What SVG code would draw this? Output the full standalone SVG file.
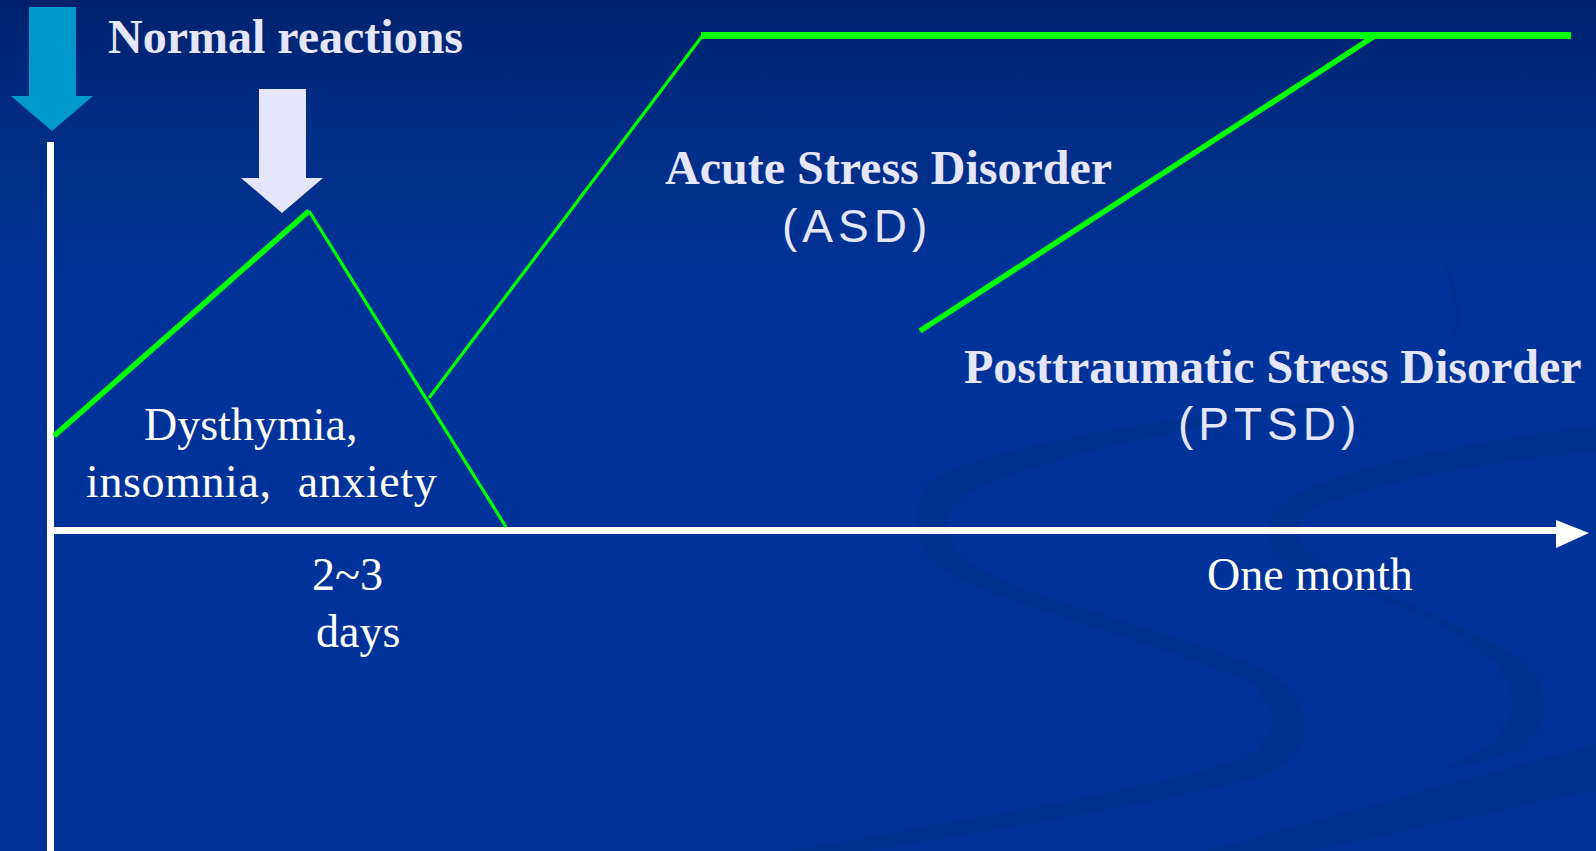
<svg xmlns="http://www.w3.org/2000/svg" width="1596" height="851" viewBox="0 0 1596 851">
  <defs>
    <linearGradient id="bg" x1="0" y1="0" x2="0" y2="1" gradientUnits="objectBoundingBox">
      <stop offset="0" stop-color="#00226c"/>
      <stop offset="0.12" stop-color="#002b80"/>
      <stop offset="0.33" stop-color="#003399"/>
      <stop offset="1" stop-color="#003399"/>
    </linearGradient>
    <style>
      .swirl { fill: #003090; }
      .axis { fill: #ffffff; }
      .curve { stroke: #00ff00; fill: none; stroke-linecap: butt; }
      .thick { stroke-width: 5.5; }
      .thin { stroke-width: 3.2; }
      .title { font-family: "Liberation Serif", "Times New Roman", serif; font-weight: bold; font-size: 48px; fill: #e6e6fa; }
      .abbr { font-family: "Liberation Sans", Arial, sans-serif; font-size: 46px; fill: #e6e6fa; letter-spacing: 5px; }
      .note { font-family: "Liberation Serif", "Times New Roman", serif; font-size: 46px; fill: #ffffff; }
    </style>
  </defs>

  <!-- slide background -->
  <rect x="0" y="0" width="1596" height="851" fill="url(#bg)"/>

  <!-- decorative swirls of the template -->
  <g id="decor">
    <path class="swirl" d="M 1390 397 C 1250 405, 1030 437, 945 472 C 905 495, 903 548, 960 580 C 1035 612, 1170 648, 1245 680 C 1280 697, 1282 745, 1240 760 C 1130 795, 930 825, 790 851 L 870 851 C 980 830, 1160 805, 1265 775 C 1320 752, 1318 695, 1260 668 C 1180 635, 1045 602, 985 572 C 935 548, 935 505, 980 487 C 1060 452, 1250 412, 1390 397 Z"/>
    <path class="swirl" d="M 1596 426 C 1490 438, 1340 468, 1290 498 C 1258 518, 1262 558, 1305 572 C 1390 600, 1465 630, 1500 668 C 1518 692, 1516 730, 1484 748 C 1470 756, 1455 764, 1440 770 C 1465 766, 1500 758, 1520 748 C 1553 728, 1553 680, 1514 655 C 1465 625, 1370 590, 1315 560 C 1290 545, 1292 515, 1320 505 C 1400 478, 1500 458, 1596 452 Z"/>
    <path class="swirl" d="M 1596 744 L 1596 790 L 1310 851 L 1206 851 Z"/>
    <path d="M 1441 256 Q 1462 292 1455 335" fill="none" stroke="#003090" stroke-width="3"/>
  </g>

  <!-- downward arrows -->
  <g id="arrow-onset">
    <polygon points="29,7 76,7 76,96 93,96 52,131 11,96 29,96" fill="#0099cc"/>
  </g>
  <g id="arrow-normal">
    <polygon points="259,89 306,89 306,178 323,178 282,213 241,178 259,178" fill="#e6e6fa"/>
  </g>

  <!-- time axes -->
  <g id="axes">
    <rect class="axis" x="47" y="142" width="7" height="709"/>
    <rect class="axis" x="54" y="527" width="1503" height="7"/>
    <polygon class="axis" points="1556,520 1589,533 1556,548"/>
  </g>

  <!-- symptom course lines -->
  <g id="connectors">
    <line class="curve thick" x1="54" y1="436" x2="309" y2="211"/>
    <line class="curve thin" x1="309" y1="211" x2="506" y2="527"/>
    <line class="curve thin" x1="429" y1="398" x2="703" y2="35"/>
    <line class="curve" stroke-width="7" x1="701" y1="35.5" x2="1571" y2="35.5"/>
    <line class="curve thick" x1="920" y1="331" x2="1373" y2="37"/>
  </g>

  <!-- labels -->
  <g id="label-normal">
    <text class="title" x="108" y="53">Normal reactions</text>
  </g>
  <g id="label-asd">
    <text class="title" x="665" y="184">Acute Stress Disorder</text>
    <text class="abbr" x="782" y="242">(ASD)</text>
  </g>
  <g id="label-ptsd">
    <text class="title" x="964" y="383">Posttraumatic Stress Disorder</text>
    <text class="abbr" x="1178" y="440">(PTSD)</text>
  </g>
  <g id="label-symptoms">
    <text class="note" x="144" y="440">Dysthymia,</text>
    <text class="note" x="86" y="497" word-spacing="14" letter-spacing="0.6">insomnia, anxiety</text>
  </g>
  <g id="label-days">
    <text class="note" x="312" y="590">2~3</text>
    <text class="note" x="316" y="647">days</text>
  </g>
  <g id="label-month">
    <text class="note" x="1207" y="590" font-size="48">One month</text>
  </g>
</svg>
